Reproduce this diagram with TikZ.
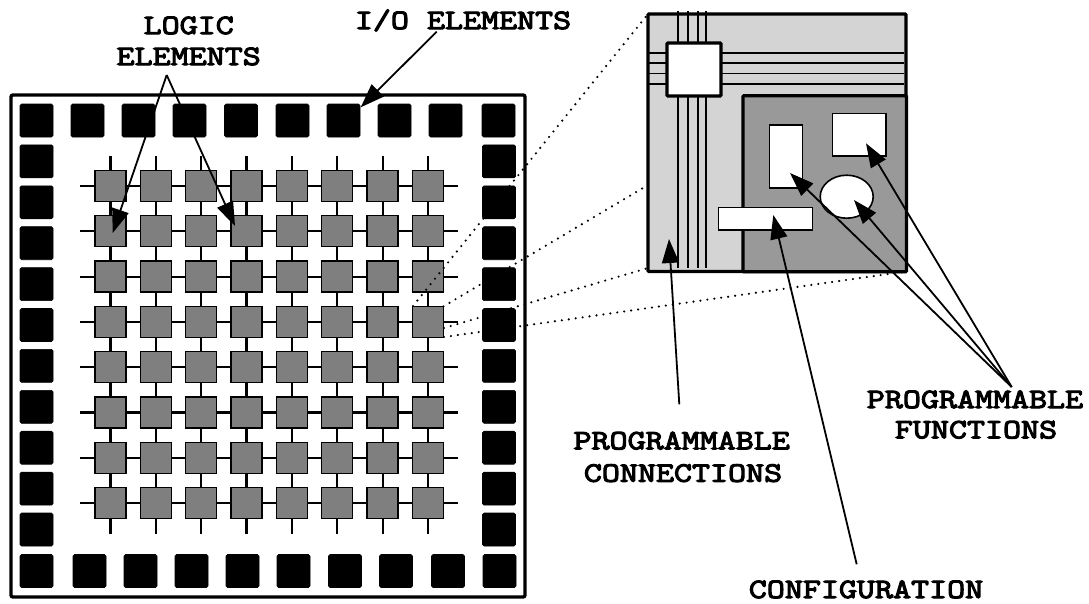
\documentclass[tikz,border=0pt]{standalone}
\usepackage{fontspec}
\setmainfont{Liberation Mono}
\newfontfamily\labfont[FakeStretch=1.25,RawFeature={embolden=4}]{Latin Modern Mono}
\usetikzlibrary{arrows.meta,shapes.geometric}
\definecolor{logicgray}{HTML}{7F7F7F}
\definecolor{panelgray}{HTML}{D4D4D4}
\definecolor{fungray}{HTML}{999999}
\tikzset{
  io/.style={rectangle,fill=black,draw=black,line width=.6pt,rounded corners=1.5pt,inner sep=0,outer sep=0,minimum size=33pt},
  logic/.style={rectangle,fill=logicgray,draw=black,line width=1.3pt,inner sep=0,outer sep=0,minimum size=31pt},
  wire/.style={line width=2.2pt,line cap=butt},
  thinwire/.style={line width=1.8pt},
  pointer/.style={line width=1.8pt,-{Triangle[length=24pt,width=17pt]}},
  dots/.style={line width=2.4pt,line cap=round,dash pattern=on 0pt off 7pt},
  whitepart/.style={fill=white,draw=black,line width=1.6pt,inner sep=0,outer sep=0},
  lab/.style={font=\labfont\fontsize{28}{31}\selectfont,inner sep=0,outer sep=0,align=center,anchor=base}
}
\begin{document}
\begin{tikzpicture}[x=1pt,y=-1pt]
\path[use as bounding box,fill=white] (0,0) rectangle (1089,603);

% chip outline
\node[draw=black,line width=3.4pt,rounded corners=2pt,inner sep=0,outer sep=0,minimum width=514pt,minimum height=502pt] (chip) at (268,346) {};

% I/O blocks
\foreach \x [count=\i] in {36.5,87.5,138.5,189.5,241,292.5,343.5,394.5,445.5,498.5}
  \node[io] (top\i) at (\x,120.5) {};
\foreach \x [count=\i] in {36.5,89.5,140.5,191.5,242.5,293.5,345,396,448,499.5}
  \node[io] (bot\i) at (\x,571) {};
\foreach \k in {1,...,10} {
  \node[io] (lft\k) at (36.5,{120.5+40.9*\k}) {};
  \node[io] (rgt\k) at (499,{120.5+40.9*\k}) {};
}

% logic grid
\foreach \i in {1,...,8} \foreach \j in {1,...,8}
  \node[logic] (g-\i-\j) at ({110.5+45.35*(\i-1)},{186+45.3*(\j-1)}) {};
\foreach \k in {1,...,8} {
  \coordinate (hl\k) at (80,{186+45.3*(\k-1)});
  \coordinate (hr\k) at (458,{186+45.3*(\k-1)});
  \coordinate (vt\k) at ({110.5+45.35*(\k-1)},156);
  \coordinate (vb\k) at ({110.5+45.35*(\k-1)},534);
  \draw[wire] (hl\k) -- (g-1-\k.west);
  \draw[wire] (g-8-\k.east) -- (hr\k);
  \draw[wire] (vt\k) -- (g-\k-1.north);
  \draw[wire] (g-\k-8.south) -- (vb\k);
}
\foreach \a in {1,...,7} \foreach \b in {1,...,8} {
  \pgfmathtruncatemacro{\c}{\a+1}
  \draw[wire] (g-\a-\b.east) -- (g-\c-\b.west);
  \draw[wire] (g-\b-\a.south) -- (g-\b-\c.north);
}

% inset
\node[draw=black,fill=panelgray,line width=3.4pt,rounded corners=1pt,inner sep=0,outer sep=0,minimum width=258pt,minimum height=257.5pt] (inset) at (777,142.75) {};

\coordinate (d1) at (413,306);
\coordinate (d2) at (648,185);
\coordinate (d3) at (648,268);
\coordinate (d4) at (444,328);
\coordinate (d5) at (444,337);
\draw[dots] (d1) -- (inset.north west);
\draw[dots] (g-8-4.north east) -- (d2);
\draw[dots] (d4) -- (d3);
\draw[dots] (d5) -- (inset.south east);

\node[draw=black,fill=fungray,line width=3.4pt,rounded corners=1pt,inner sep=0,outer sep=0,minimum width=163.5pt,minimum height=176pt] (fun) at (824.7,183.7) {};

\node[draw=black,fill=white,line width=3.4pt,rounded corners=1pt,inner sep=0,outer sep=0,minimum width=54pt,minimum height=53pt] (sw) at (694,69.5) {};
\foreach \x [count=\k] in {677.7,688,698.3,706} {
  \coordinate (wt\k) at (\x,11);
  \coordinate (wb\k) at (\x,268);
  \draw[thinwire] (wt\k) -- (wt\k |- sw.north);
  \draw[thinwire] (wb\k |- sw.south) -- (wb\k);
}
\foreach \y [count=\k] in {53,63,73.5,84} {
  \coordinate (wl\k) at (646.7,\y);
  \coordinate (wr\k) at (904,\y);
  \draw[thinwire] (wl\k) -- (wl\k -| sw.west);
  \draw[thinwire] (wr\k -| sw.east) -- (wr\k);
}

\node[whitepart,rectangle,minimum width=33pt,minimum height=63pt] (f1) at (785.8,156.2) {};
\node[whitepart,rectangle,minimum width=53.4pt,minimum height=42.7pt] (f2) at (859,134.7) {};
\node[whitepart,ellipse,minimum width=53pt,minimum height=43pt] (f3) at (846.7,196.7) {};
\node[whitepart,rectangle,minimum width=94pt,minimum height=22.4pt] (f4) at (765.3,218.5) {};

% labels
\node[lab] (lblio) at (463,29) {I/O ELEMENTS};
\node[lab] (lbll1) at (188.7,34) {LOGIC};
\node[lab] (lbll2) at (188.7,65) {ELEMENTS};
\node[lab] (lblf1) at (975,408) {PROGRAMMABLE};
\node[lab] (lblf2) at (976,438.3) {FUNCTIONS};
\node[lab] (lblc1) at (681.7,449.3) {PROGRAMMABLE};
\node[lab] (lblc2) at (683,481.7) {CONNECTIONS};
\node[lab] (lblcfg) at (866,598) {CONFIGURATION};

% pointers
\coordinate (srcio) at (436.7,31.7);
\coordinate (tipio) at (360.7,107.3);
\coordinate (srclog) at (166.7,75);
\coordinate (tipl1) at (112.7,233);
\coordinate (tipl2) at (235,226);
\coordinate (srcfun) at (1011.7,387);
\coordinate (tipf1) at (790,173);
\coordinate (tipf2) at (866,143.3);
\coordinate (tipf3) at (854,200);
\coordinate (srccon) at (679.3,404.3);
\coordinate (tipcon) at (669,239);
\coordinate (srccfg) at (856.7,564.3);
\coordinate (tipcfg) at (773.3,215);
\draw[pointer] (srcio) -- (tipio);
\draw[pointer] (srclog) -- (tipl1);
\draw[pointer] (srclog) -- (tipl2);
\draw[pointer] (srcfun) -- (tipf1);
\draw[pointer] (srcfun) -- (tipf2);
\draw[pointer] (srcfun) -- (tipf3);
\draw[pointer] (srccon) -- (tipcon);
\draw[pointer] (srccfg) -- (tipcfg);
\end{tikzpicture}
\end{document}
